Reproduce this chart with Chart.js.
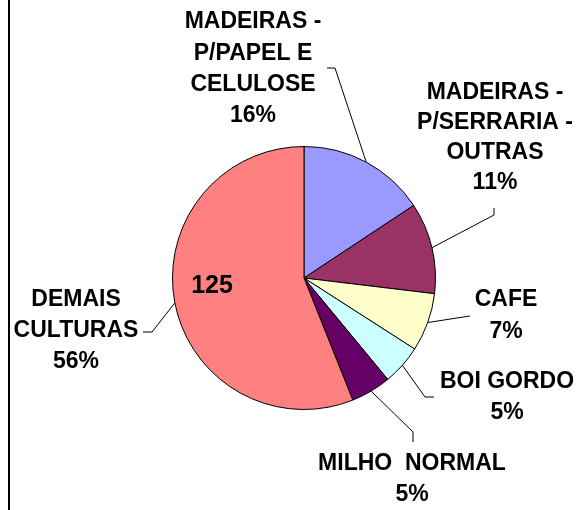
<!DOCTYPE html>
<html>
<head>
<meta charset="utf-8">
<script src="https://cdn.jsdelivr.net/npm/chart.js@4/dist/chart.umd.min.js"></script>
<style>
html,body{margin:0;padding:0;background:#fff;overflow:hidden;}
canvas{display:block;}
</style>
</head>
<body>
<canvas id="c" width="578" height="510"></canvas>
<script>
// ---- data ----
const categories = [
  ["MADEIRAS -", "P/PAPEL E", "CELULOSE"],
  ["MADEIRAS -", "P/SERRARIA -", "OUTRAS"],
  ["CAFE"],
  ["BOI GORDO"],
  ["MILHO  NORMAL"],
  ["DEMAIS", "CULTURAS"]
];
const values = [35, 25, 16, 11, 11, 125];
const colors = ["#9999FF", "#993366", "#FFFFCC", "#CCFFFF", "#660066", "#FF8080"];
const valueLabelIndex = 5; // slice that shows its raw value

// ---- layout of outside labels (positions only) ----
const labelLayout = [
  { cx: 253, top: 22, lh: 31.3, path: [[335, 68], [327, 68]] },
  { cx: 495, top: 93, lh: 30, path: [[494, 215], [494, 208]] },
  { cx: 506, top: 300, lh: 32, path: [[470, 316]] },
  { cx: 507, top: 382, lh: 31, path: [[425, 397], [434, 397]] },
  { cx: 412, top: 464, lh: 31, path: [[413, 432], [413, 442]] },
  { cx: 76, top: 300, lh: 31, path: [[152, 332], [143, 332]] }
];

const total = values.reduce((a, b) => a + b, 0);
const pctLabels = values.map(v => Math.round(v / total * 100) + '%');

const FONT = "bold 23px Arial, 'Liberation Sans', sans-serif";

const decor = {
  id: 'decor',
  beforeDraw(chart) {
    const ctx = chart.ctx;
    ctx.save();
    ctx.fillStyle = '#fff';
    ctx.fillRect(0, 0, chart.width, chart.height);
    ctx.fillStyle = '#000';
    ctx.fillRect(8, 0, 2, chart.height);
    ctx.restore();
  },
  afterDatasetsDraw(chart) {
    const ctx = chart.ctx;
    const meta = chart.getDatasetMeta(0);
    ctx.save();
    meta.data.forEach((arc, i) => {
      const p = arc.getProps(['x', 'y', 'startAngle', 'endAngle', 'outerRadius'], true);
      const mid = (p.startAngle + p.endAngle) / 2;
      const sx = p.x + Math.cos(mid) * p.outerRadius;
      const sy = p.y + Math.sin(mid) * p.outerRadius;
      const L = labelLayout[i];
      // leader line
      ctx.strokeStyle = '#000';
      ctx.lineWidth = 1;
      ctx.beginPath();
      ctx.moveTo(sx, sy);
      L.path.forEach(pt => ctx.lineTo(pt[0], pt[1]));
      ctx.stroke();
      // text
      ctx.fillStyle = '#000';
      ctx.font = FONT;
      ctx.textAlign = 'center';
      ctx.textBaseline = 'middle';
      const lines = categories[i].concat([pctLabels[i]]);
      lines.forEach((t, k) => ctx.fillText(t, L.cx, L.top + k * L.lh));
      if (i === valueLabelIndex) {
        ctx.font = "bold 25px Arial, 'Liberation Sans', sans-serif";
        ctx.fillText(String(values[i]), 212, 286);
      }
    });
    ctx.restore();
  }
};

new Chart(document.getElementById('c'), {
  type: 'pie',
  data: {
    labels: categories.map(c => c.join(' ')),
    datasets: [{
      data: values,
      backgroundColor: colors,
      borderColor: '#000',
      borderWidth: 1
    }]
  },
  options: {
    responsive: false,
    animation: false,
    layout: { padding: { left: 172, right: 142, top: 146, bottom: 100 } },
    plugins: { legend: { display: false }, tooltip: { enabled: false } }
  },
  plugins: [decor]
});
</script>
</body>
</html>
